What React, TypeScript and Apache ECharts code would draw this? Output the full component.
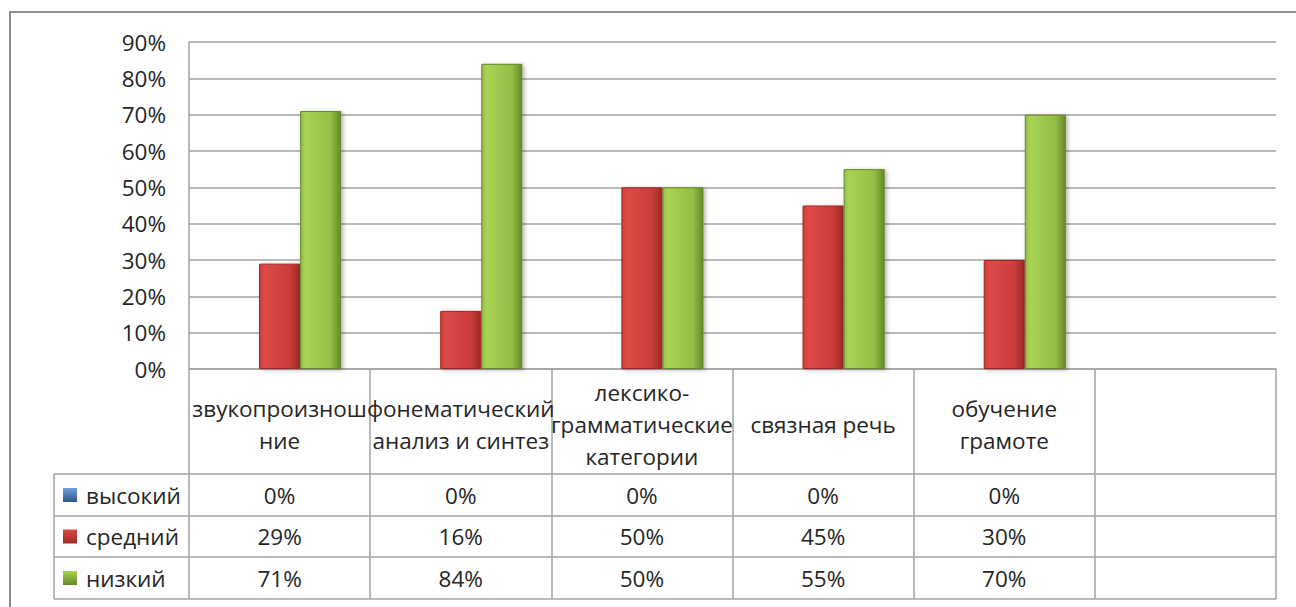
import React, { useEffect, useRef } from "react";
import * as echarts from "echarts";

const categories = [
  "звукопроизношение",
  "фонематический анализ и синтез",
  "лексико-грамматические категории",
  "связная речь",
  "обучение грамоте",
  "",
];
const categoryLabels = [
  "звукопроизнош\nние",
  "фонематический\nанализ и синтез",
  "лексико-\nграмматические\nкатегории",
  "связная речь",
  "обучение\nграмоте",
  "",
];
const seriesNames = ["высокий", "средний", "низкий"];
const highValues = [0, 0, 0, 0, 0, null];
const midValues = [29, 16, 50, 45, 30, null];
const lowValues = [71, 84, 50, 55, 70, null];
const yMax = 90;
const yStep = 10;

const FONT = "'Open Sans', 'Noto Sans', sans-serif";
const TEXT = "#262626";
const LINE = "#a3a3a3";
const FS = 22.5;

const palettes = [
  { light: "#6f9fdc", base: "#4f81bd", dark: "#2b5889" },
  { light: "#de4a46", base: "#c93d3a", dark: "#9e2826" },
  { light: "#a8d354", base: "#94be46", dark: "#66882a" },
];

function barGradient(p: { light: string; base: string; dark: string }) {
  return new echarts.graphic.LinearGradient(0, 0, 1, 0, [
    { offset: 0, color: p.base },
    { offset: 0.12, color: p.light },
    { offset: 0.75, color: p.base },
    { offset: 1, color: p.dark },
  ]);
}

export default function App() {
  const ref = useRef<HTMLDivElement>(null);
  useEffect(() => {
    if (!ref.current) return;
    const chart = echarts.init(ref.current, undefined, { renderer: "svg" });
    const seriesData = [highValues, midValues, lowValues];
    chart.setOption({
      animation: false,
      backgroundColor: "#ffffff",
      textStyle: { fontFamily: FONT },
      grid: { left: 189, right: 20, top: 42, bottom: 238, containLabel: false },
      xAxis: {
        type: "category",
        data: categories,
        axisLine: { show: true, lineStyle: { color: LINE, width: 1.5 } },
        axisTick: { show: true, alignWithLabel: false, length: 230, lineStyle: { color: LINE, width: 1.5 } },
        axisLabel: {
          interval: 0,
          margin: 55,
          verticalAlign: "middle",
          lineHeight: 32,
          fontSize: FS,
          color: TEXT,
          fontFamily: FONT,
          formatter: (_v: string, i: number) => categoryLabels[i],
        },
      },
      yAxis: {
        type: "value",
        min: 0,
        max: yMax,
        interval: yStep,
        axisLine: { show: true, lineStyle: { color: LINE, width: 1.5 } },
        axisTick: { show: false },
        axisLabel: { formatter: "{value}%", fontSize: FS, color: TEXT, fontFamily: FONT, margin: 23 },
        splitLine: { show: true, lineStyle: { color: LINE, width: 1.5 } },
      },
      series: seriesNames.map((name, si) => ({
        name,
        type: "bar",
        data: seriesData[si],
        barGap: "0%",
        barCategoryGap: "32%",
        itemStyle: {
          color: barGradient(palettes[si]),
          borderColor: palettes[si].dark,
          borderWidth: 1,
          shadowColor: "rgba(0,0,0,0.3)",
          shadowBlur: 4,
          shadowOffsetX: 2,
          shadowOffsetY: 1,
        },
      })),
    });

    const xs = categories.map((_c, i) => chart.convertToPixel({ xAxisIndex: 0 }, i) as number);
    const half = (xs[1] - xs[0]) / 2;
    const tableLeft = 54;
    const tableRight = xs[xs.length - 1] + half;
    const rowLines = [474, 516, 557, 599];
    const graphics: any[] = [];
    graphics.push({
      type: "rect",
      shape: { x: 10, y: 12, width: 1400, height: 700 },
      style: { fill: "none", stroke: "#8c8c8c", lineWidth: 2 },
      silent: true,
    });
    rowLines.forEach((y) => {
      graphics.push({
        type: "line",
        shape: { x1: tableLeft, y1: y, x2: tableRight, y2: y },
        style: { stroke: LINE, lineWidth: 1.5 },
      });
    });
    graphics.push({
      type: "line",
      shape: { x1: tableLeft, y1: rowLines[0], x2: tableLeft, y2: rowLines[rowLines.length - 1] },
      style: { stroke: LINE, lineWidth: 1.5 },
    });
    seriesNames.forEach((name, si) => {
      const cy = (rowLines[si] + rowLines[si + 1]) / 2;
      graphics.push({
        type: "rect",
        shape: { x: 63, y: cy - 7, width: 14, height: 14 },
        style: {
          fill: new echarts.graphic.LinearGradient(0, 0, 0, 1, [
            { offset: 0, color: palettes[si].light },
            { offset: 1, color: palettes[si].dark },
          ]),
        },
      });
      graphics.push({
        type: "text",
        x: 86,
        y: cy,
        style: { text: name, fontSize: FS, fill: TEXT, fontFamily: FONT, textAlign: "left", textVerticalAlign: "middle" },
      });
      seriesData[si].forEach((v, ci) => {
        if (v === null || v === undefined) return;
        graphics.push({
          type: "text",
          x: xs[ci],
          y: cy,
          style: { text: `${v}%`, fontSize: FS, fill: TEXT, fontFamily: FONT, textAlign: "center", textVerticalAlign: "middle" },
        });
      });
    });
    chart.setOption({ graphic: graphics });

    return () => chart.dispose();
  }, []);
  return (
    <div
      ref={ref}
      style={{ position: "fixed", left: 0, top: 0, width: 1296, height: 607, background: "#fff" }}
    />
  );
}
